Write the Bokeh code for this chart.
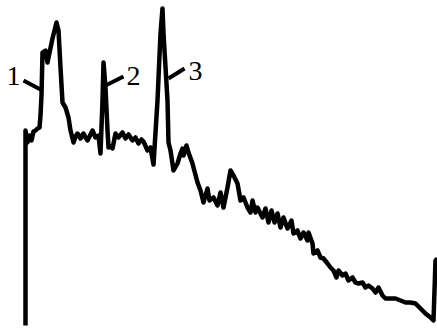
from bokeh.plotting import figure
from bokeh.models import Range1d
from bokeh.core.properties import value
from bokeh.embed import file_html
from bokeh.resources import INLINE

# trace (pixel-like units; y grows downward)
trace_x = [25, 25, 27, 29, 31, 33, 35, 37, 39, 40,
           41, 42, 45, 47, 48, 52, 56, 58, 60, 62,
           65, 68, 70, 73, 75, 77, 80, 83, 85, 87,
           90, 92, 95, 98, 100, 102, 103, 105, 107, 108,
           110, 112, 115, 118, 122, 125, 128, 132, 135, 138,
           141, 143, 147, 150, 153, 157, 160, 162, 163, 167,
           168, 170, 173, 177, 180, 182, 183, 186, 188, 192,
           193, 197, 200, 203, 207, 209, 213, 217, 220, 223,
           227, 230, 233, 237, 240, 243, 247, 250, 252, 255,
           257, 262, 265, 268, 271, 274, 277, 280, 283, 287,
           291, 293, 297, 300, 303, 307, 308, 312, 313, 317,
           320, 323, 327, 330, 333, 336, 338, 342, 345, 348,
           352, 355, 358, 362, 365, 368, 372, 375, 378, 382,
           385, 390, 395, 400, 405, 410, 415, 420, 425, 430,
           433, 435, 437]
trace_y = [325, 130, 142, 135, 140, 131, 130, 128, 127, 115,
           95, 52, 50, 62, 57, 38, 22, 30, 67, 102,
           107, 117, 130, 142, 136, 133, 138, 133, 137, 140,
           134, 130, 137, 135, 153, 100, 62, 87, 130, 147,
           146, 148, 133, 137, 132, 138, 134, 140, 137, 143,
           139, 141, 150, 147, 164, 100, 33, 8, 33, 100,
           142, 150, 170, 163, 153, 148, 155, 145, 152, 163,
           167, 182, 190, 202, 188, 200, 197, 205, 192, 207,
           187, 170, 175, 183, 200, 197, 207, 212, 200, 212,
           207, 217, 208, 222, 210, 222, 213, 227, 217, 228,
           220, 233, 230, 238, 232, 240, 232, 243, 253, 250,
           257, 258, 263, 267, 270, 277, 270, 275, 273, 280,
           277, 282, 283, 282, 287, 285, 288, 292, 287, 295,
           298, 298, 298, 300, 302, 302, 303, 308, 313, 317,
           320, 260, 258]
assert len(trace_x) == len(trace_y)

# peak labels and leader lines
label_text = ["1", "2", "3"]
label_x = [13, 133, 195]
label_y = [75, 75, 70]
leader_x0 = [23, 105, 168]
leader_y0 = [80, 85, 78]
leader_x1 = [40, 123, 184]
leader_y1 = [89, 76, 68]

p = figure(width=437, height=329, output_backend="svg", toolbar_location=None,
           x_range=Range1d(0, 437), y_range=Range1d(329, 0),
           min_border=0, min_border_left=0, min_border_right=0,
           min_border_top=0, min_border_bottom=0)
p.axis.visible = False
p.grid.visible = False
p.outline_line_color = None
p.background_fill_color = "white"
p.border_fill_color = "white"

p.line(trace_x, trace_y, line_width=4.5, line_color="black", line_join="round")
p.segment(leader_x0, leader_y0, leader_x1, leader_y1, line_width=4, line_color="black")
p.text(label_x, label_y, text=label_text, text_font=value("Liberation Serif"),
       text_font_size="28px", text_align="center", text_baseline="middle", text_color="black")

open("out.html", "w").write(file_html(p, INLINE))
